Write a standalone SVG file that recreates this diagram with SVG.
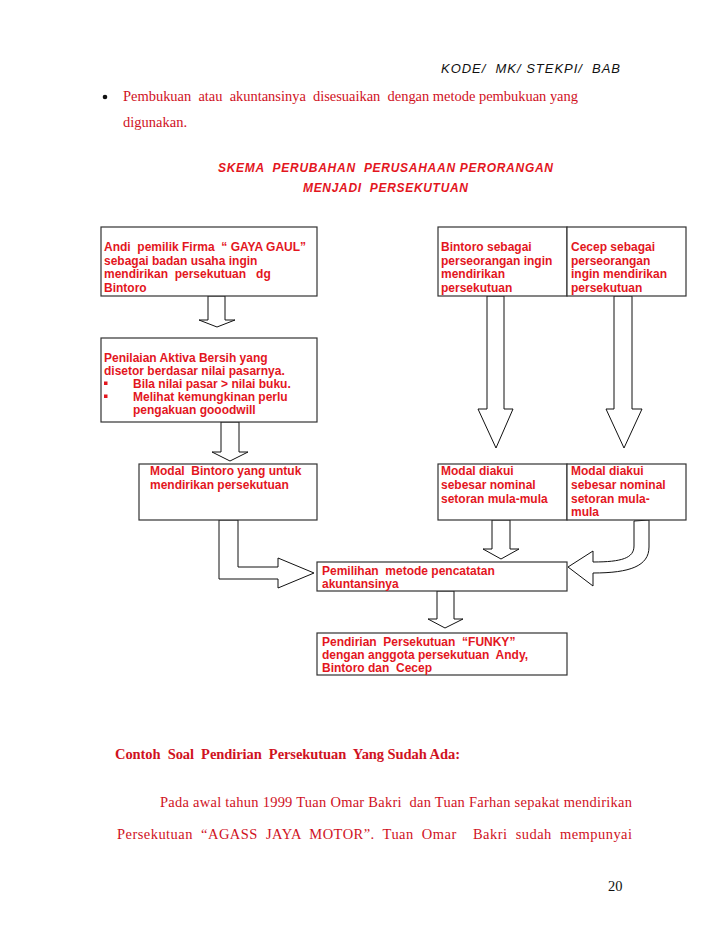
<svg xmlns="http://www.w3.org/2000/svg" width="728" height="943" viewBox="0 0 728 943">
<style>
.bx{fill:#fff;stroke:#333;stroke-width:1.2}
.ar{fill:#fff;stroke:#111;stroke-width:1}
.t{font-family:"Liberation Sans",Arial,sans-serif;font-weight:bold;font-size:12px;fill:#e3161e}
.tm{font-family:"Liberation Serif","Times New Roman",serif;font-size:14.5px;fill:#d0121e}
.hd{font-family:"Liberation Sans",Arial,sans-serif;font-style:italic;font-size:13px;fill:#111}
.ti{font-family:"Liberation Sans",Arial,sans-serif;font-style:italic;font-weight:bold;font-size:12px;fill:#e3161e}
</style>
<rect width="728" height="943" fill="#fff"/>
<g id="header">
<text class="hd" x="441" y="73" textLength="179" lengthAdjust="spacing" xml:space="preserve">KODE/  MK/ STEKPI/  BAB</text>
<circle cx="105" cy="97" r="2.3" fill="#111"/>
<text class="tm" x="123" y="101" textLength="455" lengthAdjust="spacing" xml:space="preserve">Pembukuan  atau  akuntansinya  disesuaikan  dengan metode pembukuan yang</text>
<text class="tm" x="123" y="127">digunakan.</text>
<text class="ti" x="218" y="172" textLength="335" lengthAdjust="spacing" xml:space="preserve">SKEMA  PERUBAHAN  PERUSAHAAN PERORANGAN</text>
<text class="ti" x="303" y="192" textLength="165" lengthAdjust="spacing" xml:space="preserve">MENJADI  PERSEKUTUAN</text>
</g>
<g id="connectors">
<polygon class="ar" points="208,296 225,296 225,320 235,320 217,327 199,320 208,320"/>
<polygon class="ar" points="221,422 239,422 239,452 248,452 230,461 212,452 221,452"/>
<polygon class="ar" points="487,296 504,296 504,409 513,409 496,448 478,409 487,409"/>
<polygon class="ar" points="614,296 632,296 632,409 642,409 624,448 606,409 614,409"/>
<polygon class="ar" points="492,520 510,520 510,549 519,549 501,559 483,549 492,549"/>
<polygon class="ar" points="437,591 454,591 454,619 463,619 445,628 428,619 437,619"/>
<polygon class="ar" points="219,520 238,520 238,567 278,567 278,558 314,573 278,588 278,579 219,579"/>
<path class="ar" d="M634,521 L649,520 L649,547 C649,566 630,573 593,573 L593,586 L568,567 L593,551 L593,562 C622,562 634,558 634,546 Z"/>
</g>
<g id="n-andi">
<rect class="bx" x="101" y="227" width="216" height="69"/>
<text class="t" x="104" y="251" xml:space="preserve">Andi  pemilik Firma  “ GAYA GAUL”</text>
<text class="t" x="104" y="264.5">sebagai badan usaha ingin</text>
<text class="t" x="104" y="278" xml:space="preserve">mendirikan  persekutuan   dg</text>
<text class="t" x="104" y="291.5">Bintoro</text>
</g>
<g id="n-bintoro">
<rect class="bx" x="438" y="227" width="129" height="69"/>
<text class="t" x="441" y="251">Bintoro sebagai</text>
<text class="t" x="441" y="264.5">perseorangan ingin</text>
<text class="t" x="441" y="278">mendirikan</text>
<text class="t" x="441" y="291.5">persekutuan</text>
</g>
<g id="n-cecep">
<rect class="bx" x="567" y="227" width="119" height="69"/>
<text class="t" x="571" y="251">Cecep sebagai</text>
<text class="t" x="571" y="264.5">perseorangan</text>
<text class="t" x="571" y="278">ingin mendirikan</text>
<text class="t" x="571" y="291.5">persekutuan</text>
</g>
<g id="n-penilaian">
<rect class="bx" x="101" y="338" width="216" height="84"/>
<text class="t" x="104" y="362">Penilaian Aktiva Bersih yang</text>
<text class="t" x="104" y="375">disetor berdasar nilai pasarnya.</text>
<rect x="104" y="381.5" width="3.5" height="3.5" fill="#e3161e"/>
<text class="t" x="133" y="388">Bila nilai pasar &gt; nilai buku.</text>
<rect x="104" y="394.5" width="3.5" height="3.5" fill="#e3161e"/>
<text class="t" x="133" y="401">Melihat kemungkinan perlu</text>
<text class="t" x="133" y="414">pengakuan gooodwill</text>
</g>
<g id="n-modal-bintoro">
<rect class="bx" x="139" y="464" width="178" height="56"/>
<text class="t" x="150" y="475" xml:space="preserve">Modal  Bintoro yang untuk</text>
<text class="t" x="150" y="489">mendirikan persekutuan</text>
</g>
<g id="n-modal-diakui-1">
<rect class="bx" x="438" y="464" width="129" height="56"/>
<text class="t" x="441" y="475">Modal diakui</text>
<text class="t" x="441" y="489">sebesar nominal</text>
<text class="t" x="441" y="502.5">setoran mula-mula</text>
</g>
<g id="n-modal-diakui-2">
<rect class="bx" x="567" y="464" width="119" height="56"/>
<text class="t" x="571" y="475">Modal diakui</text>
<text class="t" x="571" y="489">sebesar nominal</text>
<text class="t" x="571" y="502.5">setoran mula-</text>
<text class="t" x="571" y="516">mula</text>
</g>
<g id="n-pemilihan">
<rect class="bx" x="317" y="562" width="250" height="29"/>
<text class="t" x="322" y="574.5" xml:space="preserve">Pemilihan  metode pencatatan</text>
<text class="t" x="322" y="588">akuntansinya</text>
</g>
<g id="n-pendirian">
<rect class="bx" x="317" y="633" width="250" height="42"/>
<text class="t" x="322" y="645.5" xml:space="preserve">Pendirian  Persekutuan  “FUNKY”</text>
<text class="t" x="322" y="659" xml:space="preserve">dengan anggota persekutuan  Andy,</text>
<text class="t" x="322" y="672" xml:space="preserve">Bintoro dan  Cecep</text>
</g>
<g id="body">
<text class="tm" x="115" y="759" font-weight="bold" textLength="345" lengthAdjust="spacing" xml:space="preserve">Contoh  Soal  Pendirian  Persekutuan  Yang Sudah Ada:</text>
<text class="tm" x="160" y="807" textLength="472" lengthAdjust="spacing" xml:space="preserve">Pada awal tahun 1999 Tuan Omar Bakri  dan Tuan Farhan sepakat mendirikan</text>
<text class="tm" x="117" y="839" textLength="515" lengthAdjust="spacing" xml:space="preserve">Persekutuan  “AGASS  JAYA  MOTOR”.  Tuan  Omar    Bakri  sudah  mempunyai</text>
<text class="tm" x="608" y="891" style="fill:#111" font-size="13">20</text>
</g>
</svg>
